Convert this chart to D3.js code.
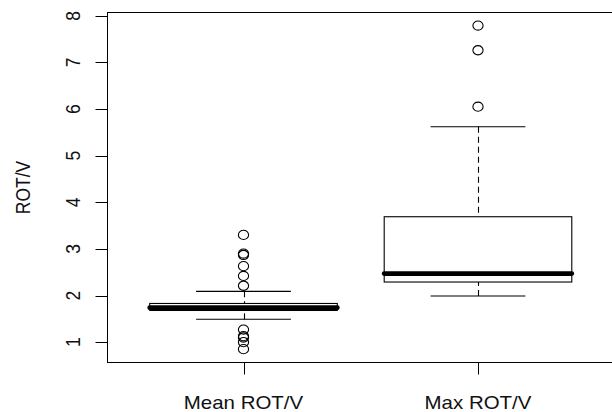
<!DOCTYPE html>
<html>
<head>
<meta charset="utf-8">
<script src="https://cdn.jsdelivr.net/npm/d3@7"></script>
<style>
  html, body { margin: 0; padding: 0; background: #fff; }
  svg { display: block; }
  text { font-family: "Liberation Sans", Arial, Helvetica, sans-serif; fill: #111; }
</style>
</head>
<body>
<svg id="chart" width="612" height="412"></svg>
<script>
// ---- data ----
const categories = ["Mean ROT/V", "Max ROT/V"];
const whiskerLow  = [1.49, 1.99];
const q1          = [1.68, 2.29];
const median      = [1.74, 2.47];
const q3          = [1.83, 3.69];
const whiskerHigh = [2.09, 5.62];
const outliersMean = [3.30, 2.90, 2.87, 2.63, 2.42, 2.21, 1.27, 1.13, 1.10, 1.00, 0.85];
const outliersMax  = [7.79, 7.26, 6.05];
const yTicks = [1, 2, 3, 4, 5, 6, 7, 8];
const yTitle = "ROT/V";

const outliers = [outliersMean, outliersMax];

// ---- layout ----
const svg = d3.select("#chart");
const pLeft = 107.5, pRight = 614, pTop = 12.5, pBottom = 362.5;
const stretch = 1.17, fontSize = 17.5;

const x = d3.scaleLinear().domain([0.42, 2.58]).range([pLeft, pRight]);
const y = d3.scaleLinear().domain([0.564, 8.07]).range([pBottom, pTop]);
const boxW = x(1.8) - x(1);       // 0.8 units total
const capW = x(1.4) - x(1);       // 0.4 units total

// frame
svg.append("rect")
  .attr("x", pLeft).attr("y", pTop)
  .attr("width", pRight - pLeft).attr("height", pBottom - pTop)
  .attr("fill", "none").attr("stroke", "#000").attr("stroke-width", 1);

// y axis ticks
const yAxisG = svg.append("g");
yAxisG.selectAll("line").data(yTicks).join("line")
  .attr("x1", pLeft - 12).attr("x2", pLeft)
  .attr("y1", d => Math.round(y(d)) + 0.5).attr("y2", d => Math.round(y(d)) + 0.5)
  .attr("stroke", "#000").attr("stroke-width", 1);
yAxisG.selectAll("text").data(yTicks).join("text")
  .attr("transform", d => `translate(80,${y(d)}) scale(${stretch},1) rotate(-90)`)
  .attr("text-anchor", "middle")
  .attr("font-size", fontSize)
  .text(d => d);

// y title
svg.append("text")
  .attr("transform", `translate(30,${(pTop + pBottom) / 2}) scale(${stretch},1) rotate(-90)`)
  .attr("text-anchor", "middle")
  .attr("font-size", fontSize)
  .text(yTitle);

// x axis ticks and labels
const xAxisG = svg.append("g");
xAxisG.selectAll("line").data(categories).join("line")
  .attr("x1", (d, i) => Math.round(x(i + 1)) + 0.5).attr("x2", (d, i) => Math.round(x(i + 1)) + 0.5)
  .attr("y1", pBottom).attr("y2", pBottom + 12)
  .attr("stroke", "#000").attr("stroke-width", 1);
xAxisG.selectAll("text").data(categories).join("text")
  .attr("transform", (d, i) => `translate(${x(i + 1)},408.5) scale(${stretch},1)`)
  .attr("text-anchor", "middle")
  .attr("font-size", fontSize)
  .text(d => d);

// boxes
const g = svg.append("g");
categories.forEach((c, i) => {
  const cx = Math.round(x(i + 1)) + 0.5;
  // whiskers (dashed, drawn from cap toward box)
  g.append("line")
    .attr("x1", cx).attr("x2", cx)
    .attr("y1", y(whiskerHigh[i])).attr("y2", y(q3[i]))
    .attr("stroke", "#000").attr("stroke-width", 1.1).attr("stroke-dasharray", "6,4");
  g.append("line")
    .attr("x1", cx).attr("x2", cx)
    .attr("y1", y(whiskerLow[i])).attr("y2", y(q1[i]))
    .attr("stroke", "#000").attr("stroke-width", 1.1).attr("stroke-dasharray", "6,4");
  // caps
  [whiskerHigh[i], whiskerLow[i]].forEach(v => {
    g.append("line")
      .attr("x1", x(i + 1) - capW / 2 - 0.5).attr("x2", x(i + 1) + capW / 2 + 0.5)
      .attr("y1", y(v)).attr("y2", y(v))
      .attr("stroke", "#000").attr("stroke-width", 1.1);
  });
  // box
  g.append("rect")
    .attr("x", x(i + 1) - boxW / 2).attr("y", y(q3[i]))
    .attr("width", boxW).attr("height", y(q1[i]) - y(q3[i]))
    .attr("fill", "#fff").attr("stroke", "#000").attr("stroke-width", 1.1);
  // median
  g.append("line")
    .attr("x1", x(i + 1) - boxW / 2).attr("x2", x(i + 1) + boxW / 2)
    .attr("y1", y(median[i])).attr("y2", y(median[i]))
    .attr("stroke", "#000").attr("stroke-width", 4.8).attr("stroke-linecap", "round");
  // outliers
  g.selectAll(null).data(outliers[i]).join("ellipse")
    .attr("cx", x(i + 1)).attr("cy", d => y(d))
    .attr("rx", 5.1).attr("ry", 4.6)
    .attr("fill", "none").attr("stroke", "#000").attr("stroke-width", 1.1);
});
</script>
</body>
</html>
